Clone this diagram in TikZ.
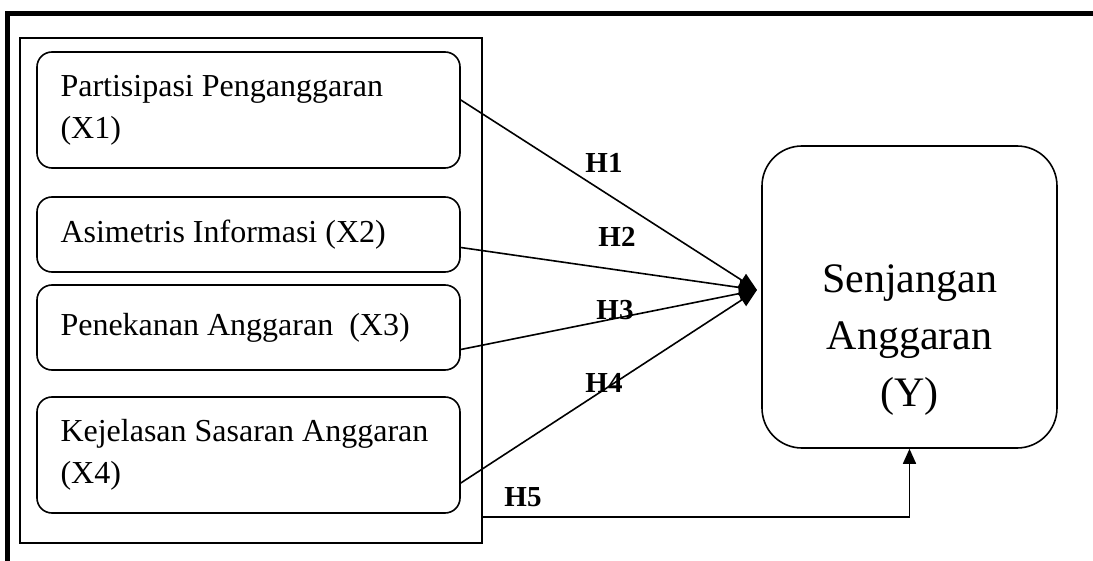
\documentclass[tikz,border=0pt]{standalone}
\usepackage{fontspec}
\setmainfont{Liberation Serif}
\usetikzlibrary{arrows.meta}
\begin{document}
\begin{tikzpicture}[
                x=1pt, y=-1pt,
                varbox/.style={draw, line width=1.6pt, rounded corners=15pt, minimum width=423pt,
                    text width=376pt, inner xsep=23.5pt, align=flush left, font=\fontsize{32}{42}\selectfont},
                hlabel/.style={font=\fontsize{29}{30}\selectfont\bfseries},
                link/.style={line width=1.6pt, -{Triangle[length=18pt,width=15pt]}}
                ]
                \useasboundingbox (0,0) rectangle (1093,561);
                % outer frame
                \draw[line width=5pt] (7,561) -- (7,14) -- (1100,14);
                \node[draw, line width=2.4pt, minimum width=462pt, minimum height=505pt] (grp) at (251,290.5) {};
                % independent variables
                \node[varbox, minimum height=116pt] (x1) at (248.5,110) {Partisipasi Penganggaran\\(X1)};
                \node[varbox, minimum height=75pt] (x2) at (248.5,234.5) {Asimetris Informasi (X2)};
                \node[varbox, minimum height=85pt] (x3) at (248.5,327.5) {Penekanan Anggaran\ \ (X3)};
                \node[varbox, minimum height=116pt] (x4) at (248.5,455) {Kejelasan Sasaran Anggaran\\(X4)};
                % dependent variable
                \node[draw, line width=1.6pt, rounded corners=40pt, minimum width=295pt, minimum height=302pt] (y) at (909.5,297) {};
                \node[align=center, font=\fontsize{42}{57}\selectfont] (ytext) at (909.5,340) {Senjangan\\Anggaran\\(Y)};
                \coordinate (tip) at (757,290);
                \coordinate (h5) at (482,517);
                \draw[link] ([yshift=10pt]x1.east) -- (tip);
                \draw[link] ([yshift=-13pt]x2.east) -- (tip);
                \draw[link] ([yshift=-22pt]x3.east) -- (tip);
                \draw[link] ([yshift=-28pt]x4.east) -- (tip);
                \draw[line width=1.6pt, -{Triangle[length=15pt,width=13pt]}] (h5) -| (y.south);
                \node[hlabel] (h1) at (604,163) {H1};
                \node[hlabel] (h2) at (617,237) {H2};
                \node[hlabel] (h3) at (615,310) {H3};
                \node[hlabel] (h4) at (604,383) {H4};
                \node[hlabel] (h5l) at (523,497) {H5};
            \end{tikzpicture}
\end{document}
